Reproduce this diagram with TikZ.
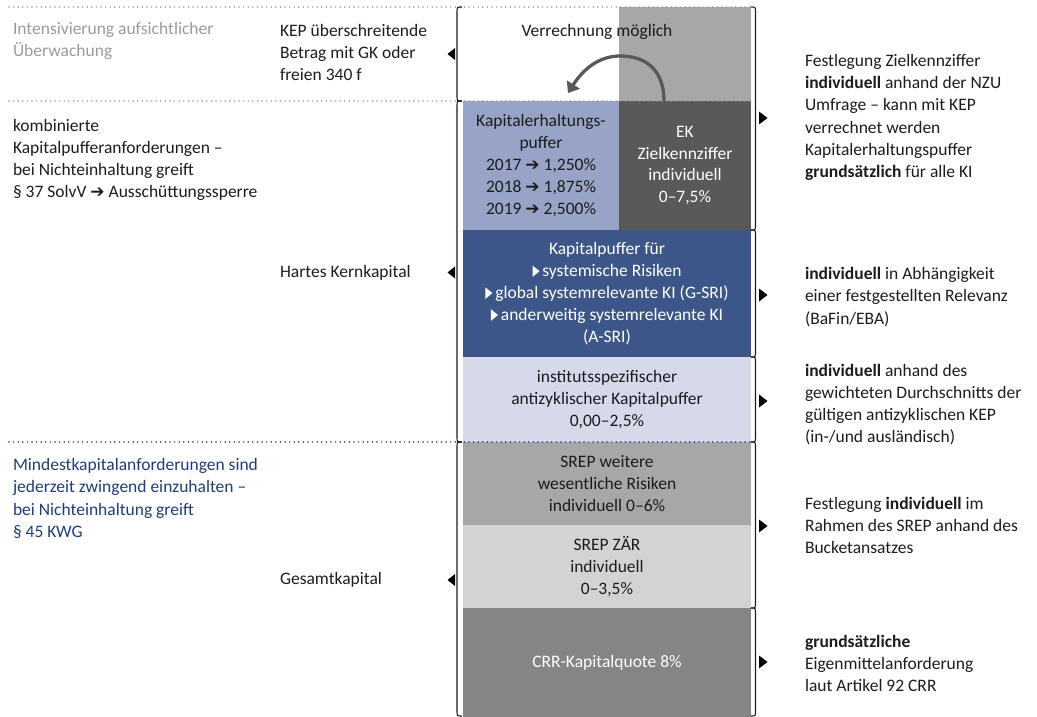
\documentclass[tikz,border=0pt]{standalone}
\usepackage{fontspec}
\setmainfont{Carlito}
\newfontfamily\dejavu{DejaVu Sans}
\usetikzlibrary{arrows.meta}
\definecolor{txtdark}{HTML}{1C1C1C}
\definecolor{txtgray}{HTML}{9A9A9A}
\definecolor{txtblue}{HTML}{1E3D78}
\definecolor{kapblue}{HTML}{97A3C7}
\definecolor{ekgray}{HTML}{58595B}
\definecolor{topgray}{HTML}{A6A7A9}
\definecolor{navybox}{HTML}{3D5689}
\definecolor{lavbox}{HTML}{D5D9EA}
\definecolor{srepgray}{HTML}{A6A7A9}
\definecolor{zargray}{HTML}{D2D3D5}
\definecolor{crrgray}{HTML}{848587}
\definecolor{dotgray}{HTML}{9A9A9A}
\newcommand{\harr}{{\dejavu\fontsize{17bp}{22bp}\selectfont ➔}}
\newcommand{\wtri}{\tikz[x=1bp,y=1bp,baseline=0bp]\fill[white] (0,-0.5) -- (0,11) -- (7,5.25) -- cycle;\,}
\begin{document}
\begin{tikzpicture}[x=1bp,y=-1bp,
  txt/.style={inner sep=0pt, outer sep=0pt, align=left, text=txtdark, font=\fontsize{17.5bp}{22.2bp}\selectfont, anchor=west},
  boxtxt/.style={inner sep=0pt, outer sep=0pt, align=center, text=txtdark, font=\fontsize{17.5bp}{21.9bp}\selectfont, anchor=north west},
  dotline/.style={line width=1.7bp, dash pattern=on 0bp off 4.6bp, line cap=round},
  bracket/.style={line width=1.1bp, draw=txtdark},
  tipmark/.style={fill=black}]
\useasboundingbox (0,0) rectangle (1037,717);

% boxes
\node[boxtxt, fill=topgray, minimum width=132bp, minimum height=94bp] (topg) at (619,7) {};
\node[boxtxt, fill=kapblue, minimum width=156bp, minimum height=129bp] (kep) at (463,101)
  {Kapitalerhaltungs-\\puffer\\2017 \harr\ 1,250\%\\2018 \harr\ 1,875\%\\2019 \harr\ 2,500\%};
\node[boxtxt, fill=ekgray, text=white, minimum width=132bp, minimum height=129bp] (ek) at (619,101)
  {EK\\Zielkennziffer\\individuell\\0–7,5\%};
\node[boxtxt, fill=navybox, text=white, minimum width=288bp, minimum height=127bp] (sys) at (463,230)
  {Kapitalpuffer für\\\wtri systemische Risiken\\\wtri global systemrelevante KI (G-SRI)\\\wtri anderweitig systemrelevante KI\\(A-SRI)};
\node[boxtxt, fill=lavbox, minimum width=288bp, minimum height=85bp] (anti) at (463,357)
  {institutsspezifischer\\antizyklischer Kapitalpuffer\\0,00–2,5\%};
\node[boxtxt, fill=srepgray, minimum width=288bp, minimum height=83bp] (srep) at (463,442)
  {SREP weitere\\wesentliche Risiken\\individuell 0–6\%};
\node[boxtxt, fill=zargray, minimum width=288bp, minimum height=83bp] (zar) at (463,525)
  {SREP ZÄR\\individuell\\0–3,5\%};
\node[boxtxt, fill=crrgray, text=white, minimum width=288bp, minimum height=109bp] (crr) at (463,608)
  {CRR-Kapitalquote 8\%};

% dotted separators
\draw[dotline, draw=dotgray] (9,7) -- (751,7);
\draw[dotline, draw=dotgray] (9,101) -- (751,101);
\draw[dotline, draw=txtblue] (9,442) -- (751,442);

% curved arrow
\node[txt, anchor=center] (verr) at (597,32) {Verrechnung möglich};
\coordinate (arrS) at (664,101);
\coordinate (arrE) at (568,93);
\draw[line width=3.3bp, draw=ekgray, -{Triangle[width=15bp,length=10bp]}]
  (arrS) .. controls (664,72) and (648,56) .. (620,56) .. controls (600,56) and (584,68) .. (arrE);

% left brackets
\foreach \a/\b in {7/101, 101/442, 442/716}{
  \draw[bracket] (462,\a) .. controls (457,\a) .. (457,\a+5) -- (457,\b-5) .. controls (457,\b) .. (462,\b);
}
% right brackets
\foreach \a/\b in {7/230, 230/357, 357/442, 442/608, 608/716}{
  \draw[bracket] (751,\a) .. controls (755.5,\a) .. (755.5,\a+5) -- (755.5,\b-5) .. controls (755.5,\b) .. (751,\b);
}
% left tip marks
\foreach \y in {54, 272.5, 580}{
  \fill[tipmark] (455,\y-6) -- (455,\y+6) -- (447.5,\y) -- cycle;
}
% right tip marks
\foreach \y in {118, 295, 401, 526, 662}{
  \fill[tipmark] (759,\y-6.5) -- (759,\y+6.5) -- (767.5,\y) -- cycle;
}

% left texts
\node[txt, text=txtgray] (intens) at (13,41) {Intensivierung aufsichtlicher\\Überwachung};
\node[txt] (kepue) at (280,52.5) {KEP überschreitende\\Betrag mit GK oder\\freien 340 f};
\node[txt] (komb) at (13,160) {kombinierte\\Kapitalpufferanforderungen –\\bei Nichteinhaltung greift\\§ 37 SolvV \harr\ Ausschüttungssperre};
\node[txt] (hkk) at (280,273) {Hartes Kernkapital};
\node[txt, text=txtblue] (mind) at (13,498.5) {Mindestkapitalanforderungen sind\\jederzeit zwingend einzuhalten –\\bei Nichteinhaltung greift\\§ 45 KWG};
\node[txt] (gesamt) at (280,580) {Gesamtkapital};

% right texts
\node[txt] (r1) at (805,117.5) {Festlegung Zielkennziffer\\\textbf{individuell} anhand der NZU\\Umfrage – kann mit KEP\\verrechnet werden\\Kapitalerhaltungspuffer\\\textbf{grundsätzlich} für alle KI};
\node[txt] (r2) at (805,297) {\textbf{individuell} in Abhängigkeit\\einer festgestellten Relevanz\\(BaFin/EBA)};
\node[txt] (r3) at (805,404.5) {\textbf{individuell} anhand des\\gewichteten Durchschnitts der\\gültigen antizyklischen KEP\\(in-/und ausländisch)};
\node[txt] (r4) at (805,525.5) {Festlegung \textbf{individuell} im\\Rahmen des SREP anhand des\\Bucketansatzes};
\node[txt] (r5) at (805,663.5) {\textbf{grundsätzliche}\\Eigenmittelanforderung\\laut Artikel 92 CRR};
\end{tikzpicture}
\end{document}
